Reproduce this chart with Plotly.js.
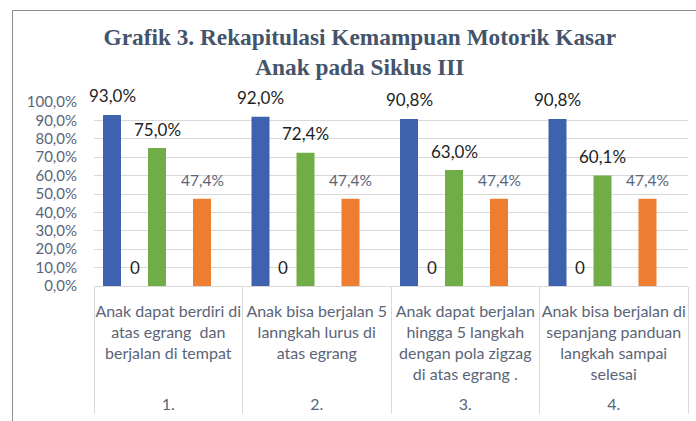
<!DOCTYPE html>
<html>
<head>
<meta charset="utf-8">
<script src="https://cdn.plot.ly/plotly-3.0.1.min.js"></script>
<style>
html,body{margin:0;padding:0;background:#fff;}
#chart{width:696px;height:421px;}
</style>
</head>
<body>
<div id="chart"></div>
<script>
// ---- data ----
var groupNumbers = ['1.', '2.', '3.', '4.'];
var categoryLabels = [
  'Anak dapat berdiri di<br>atas egrang  dan<br>berjalan di tempat',
  'Anak bisa berjalan 5<br>lanngkah lurus di<br>atas egrang',
  'Anak dapat berjalan<br>hingga 5 langkah<br>dengan pola zigzag<br>di atas egrang .',
  'Anak bisa berjalan di<br>sepanjang panduan<br>langkah sampai<br>selesai'
];
var seriesBlue   = [0.930, 0.920, 0.908, 0.908];
var seriesZero   = [0, 0, 0, 0];
var seriesGreen  = [0.750, 0.724, 0.630, 0.601];
var seriesEmptyA = [null, null, null, null];
var seriesOrange = [0.474, 0.474, 0.474, 0.474];
var seriesEmptyB = [null, null, null, null];
var zeroLabels   = ['0', '0', '0', '0'];
var titleText = 'Grafik 3. Rekapitulasi Kemampuan Motorik Kasar<br>Anak pada Siklus III';

// ---- styles ----
var allSeries = [
  {y: seriesBlue,   color: '#3e62ad', labelColor: '#1f1f1f', labelSize: 17, labels: null},
  {y: seriesZero,   color: '#a5a5a5', labelColor: '#1f1f1f', labelSize: 17, labels: zeroLabels},
  {y: seriesGreen,  color: '#70ad47', labelColor: '#1f1f1f', labelSize: 17, labels: null},
  {y: seriesEmptyA, color: '#ffc000', labelColor: '#1f1f1f', labelSize: 17, labels: null},
  {y: seriesOrange, color: '#ed7d31', labelColor: '#5b6478', labelSize: 15.5, labels: null},
  {y: seriesEmptyB, color: '#5b9bd5', labelColor: '#1f1f1f', labelSize: 17, labels: null}
];
var bargap = 0.091;
var nSlots = allSeries.length;

function fmtPct(v) {
  return (v * 100).toFixed(1).replace('.', ',') + '%';
}

// outer labels get a leading blank line to push them lower, as in the reference
var outerLabels = groupNumbers.map(function (g) { return ' <br>' + g; });
var xMulti = [outerLabels, categoryLabels];
var traces = [];
var annotations = [];
allSeries.forEach(function (s, i) {
  traces.push({
    type: 'bar',
    x: xMulti,
    y: s.y,
    marker: {color: s.color, line: {width: 0}},
    hoverinfo: 'y',
    showlegend: false
  });
  var slotW = (1 - bargap) / nSlots;
  var off = -(1 - bargap) / 2 + (i + 0.5) * slotW;
  s.y.forEach(function (v, j) {
    if (v === null || v === undefined) return;
    annotations.push({
      xref: 'x2', yref: 'y',
      x: j + off, y: v,
      yshift: 19,
      xanchor: 'center', yanchor: 'middle',
      showarrow: false,
      text: s.labels ? s.labels[j] : fmtPct(v),
      font: {family: 'Lato, sans-serif', size: s.labelSize, color: s.labelColor}
    });
  });
});

var tickFontY = {family: 'Lato, sans-serif', size: 15, color: '#5b6478'};
var tickFontX = {family: 'Lato, sans-serif', size: 16, color: '#5b6478'};

var layout = {
  width: 696, height: 421,
  margin: {l: 94, r: 8, t: 102, b: 135, pad: 0},
  paper_bgcolor: '#ffffff', plot_bgcolor: '#ffffff',
  separators: ',.',
  barmode: 'group',
  bargap: bargap,
  bargroupgap: 0.2,
  showlegend: false,
  title: {
    text: titleText,
    font: {family: 'Liberation Serif, Times New Roman, serif', size: 23.3, color: '#44546a', weight: 'bold'},
    xref: 'container', x: 0.517, xanchor: 'center',
    yref: 'container', y: 1 - 45 / 421, yanchor: 'middle'
  },
  xaxis: {
    type: 'multicategory',
    showline: true, linecolor: '#d9d9d9', linewidth: 1,
    showgrid: false, zeroline: false,
    ticks: '', ticklabelstandoff: 11,
    tickangle: 0,
    showdividers: true, dividercolor: '#d9d9d9', dividerwidth: 1,
    tickfont: tickFontX
  },
  xaxis2: {
    overlaying: 'x', range: [-0.5, 3.5], visible: false, fixedrange: true
  },
  yaxis: {
    range: [0, 1], dtick: 0.1, tick0: 0,
    tickformat: '.1%',
    showgrid: true, gridcolor: '#d9d9d9', gridwidth: 1,
    zeroline: false, showline: false,
    ticks: '', ticklabelstandoff: 16,
    tickfont: tickFontY
  },
  annotations: annotations,
  shapes: [
    {type: 'line', xref: 'paper', yref: 'paper', x0: (12.5 - 94) / 594, x1: 1.2, y0: (286 - 10.5) / 184, y1: (286 - 10.5) / 184, line: {color: '#8c8c8c', width: 1}},
    {type: 'line', xref: 'paper', yref: 'paper', x0: (12.5 - 94) / 594, x1: (12.5 - 94) / 594, y0: (286 - 10.5) / 184, y1: -1, line: {color: '#8c8c8c', width: 1}}
  ]
};

Plotly.newPlot('chart', traces, layout, {staticPlot: true, displayModeBar: false});
</script>
</body>
</html>
